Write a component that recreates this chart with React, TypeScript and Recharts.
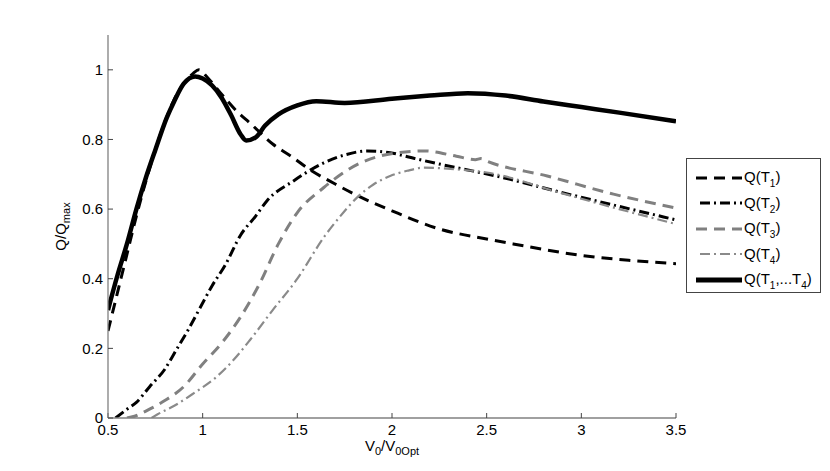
import { LineChart, Line, XAxis, YAxis, Legend } from 'recharts';

// Q(T1) - dashed black
const t1V = [0.5, 0.55, 0.6, 0.65, 0.7, 0.75, 0.8, 0.85, 0.9, 0.95, 0.98, 1.03, 1.1, 1.18, 1.25, 1.37, 1.48, 1.55, 1.7, 1.82, 2.0, 2.25, 2.5, 2.64, 3.0, 3.25, 3.5];
const t1Q = [0.25, 0.36, 0.47, 0.58, 0.68, 0.77, 0.85, 0.915, 0.96, 0.99, 1.0, 0.975, 0.93, 0.881, 0.847, 0.787, 0.747, 0.719, 0.672, 0.638, 0.595, 0.543, 0.514, 0.5, 0.467, 0.453, 0.443];

// Q(T2) - dash-dot black
const t2V = [0.54, 0.6, 0.65, 0.72, 0.8, 0.86, 0.92, 0.99, 1.05, 1.12, 1.2, 1.28, 1.34, 1.48, 1.64, 1.76, 1.87, 1.99, 2.1, 2.22, 2.43, 2.55, 2.9, 3.26, 3.5];
const t2Q = [0.0, 0.025, 0.045, 0.09, 0.14, 0.195, 0.25, 0.32, 0.38, 0.44, 0.525, 0.58, 0.624, 0.681, 0.733, 0.757, 0.767, 0.762, 0.748, 0.733, 0.709, 0.695, 0.647, 0.6, 0.569];

// Q(T3) - dashed gray
const t3V = [0.6, 0.64, 0.7, 0.8, 0.9, 1.0, 1.1, 1.2, 1.3, 1.4, 1.5, 1.64, 1.82, 2.03, 2.17, 2.34, 2.44, 2.47, 2.5, 2.82, 3.17, 3.5];
const t3Q = [0.0, 0.005, 0.02, 0.05, 0.09, 0.155, 0.215, 0.29, 0.385, 0.5, 0.59, 0.662, 0.729, 0.762, 0.767, 0.752, 0.742, 0.745, 0.738, 0.695, 0.643, 0.603];

// Q(T4) - dash-dot gray
const t4V = [0.73, 0.76, 0.85, 0.95, 1.075, 1.16, 1.25, 1.37, 1.5, 1.64, 1.72, 1.815, 1.9, 1.99, 2.08, 2.17, 2.34, 2.5, 2.9, 3.2, 3.5];
const t4Q = [0.0, 0.01, 0.035, 0.07, 0.119, 0.165, 0.224, 0.31, 0.4, 0.519, 0.575, 0.633, 0.67, 0.695, 0.71, 0.719, 0.714, 0.705, 0.645, 0.6, 0.557];

// Q(T1,...T4) - solid thick black
const sumV = [0.5, 0.55, 0.6, 0.65, 0.7, 0.75, 0.81, 0.85, 0.9, 0.96, 1.0, 1.05, 1.1, 1.15, 1.2, 1.23, 1.28, 1.33, 1.4, 1.5, 1.6, 1.75, 2.0, 2.2, 2.4, 2.6, 2.8, 3.0, 3.2, 3.5];
const sumQ = [0.31, 0.41, 0.5, 0.6, 0.69, 0.77, 0.862, 0.91, 0.96, 0.981, 0.975, 0.955, 0.92, 0.87, 0.815, 0.797, 0.806, 0.84, 0.872, 0.898, 0.91, 0.905, 0.917, 0.926, 0.933, 0.926, 0.909, 0.893, 0.877, 0.852];

const xTicks = [0.5, 1, 1.5, 2, 2.5, 3, 3.5];
const yTicks = [0, 0.2, 0.4, 0.6, 0.8, 1];
const legendSubs = [['1'], ['2'], ['3'], ['4'], ['1', '4']];

const toPoints = (v: number[], q: number[]) => v.map((x, i) => ({ v: x, q: q[i] }));

const SERIES = [
  { key: 't1', data: toPoints(t1V, t1Q), color: '#000', width: 3, dash: '11 7', legendOffset: 0 },
  { key: 't2', data: toPoints(t2V, t2Q), color: '#000', width: 3, dash: '10 4 2 4', legendOffset: 16 },
  { key: 't3', data: toPoints(t3V, t3Q), color: '#808080', width: 3, dash: '11 7', legendOffset: 0 },
  { key: 't4', data: toPoints(t4V, t4Q), color: '#8a8a8a', width: 2.2, dash: '10 4 2 4', legendOffset: 16 },
  { key: 'sum', data: toPoints(sumV, sumQ), color: '#000', width: 4.5, dash: undefined, legendOffset: 0 },
];

const FONT = '"Liberation Sans", Arial, Helvetica, sans-serif';

function LegendBox() {
  return (
    <div
      style={{
        width: 135,
        height: 135,
        border: '1px solid #444',
        background: '#fff',
        paddingTop: 6,
        boxSizing: 'border-box',
        fontFamily: FONT,
        fontSize: 15,
        color: '#000',
      }}
    >
      {SERIES.map((s, i) => (
        <div key={s.key} style={{ height: 25.5, display: 'flex', alignItems: 'center' }}>
          <svg width={46} height={10} style={{ marginLeft: 9, marginRight: 2 }}>
            <line
              x1={0}
              y1={5}
              x2={46}
              y2={5}
              stroke={s.color}
              strokeWidth={s.key === 'sum' ? 5 : s.width}
              strokeDasharray={s.dash}
              strokeDashoffset={s.legendOffset}
            />
          </svg>
          <span style={{ whiteSpace: 'nowrap', lineHeight: '15px' }}>
            Q(T<span style={{ fontSize: 10, position: 'relative', top: 5 }}>{legendSubs[i][0]}</span>
            {legendSubs[i].length > 1 && (
              <>
                ,...T<span style={{ fontSize: 10, position: 'relative', top: 5 }}>{legendSubs[i][1]}</span>
              </>
            )}
            )
          </span>
        </div>
      ))}
    </div>
  );
}

function renderXTitle(props: any) {
  const { viewBox } = props;
  const cx = viewBox.x + viewBox.width / 2;
  return (
    <text x={cx} y={451} textAnchor="middle" fontSize={15} fill="#000" fontFamily={FONT}>
      V<tspan dy={4} fontSize={11}>0</tspan>
      <tspan dy={-4}>/V</tspan>
      <tspan dy={4} fontSize={11}>0Opt</tspan>
    </text>
  );
}

function renderYTitle(props: any) {
  const { viewBox } = props;
  const cy = viewBox.y + viewBox.height / 2;
  const x = 66;
  return (
    <text x={x} y={cy} transform={`rotate(-90 ${x} ${cy})`} textAnchor="middle" fontSize={15} fill="#000" fontFamily={FONT}>
      Q/Q<tspan dy={4} fontSize={11}>max</tspan>
    </text>
  );
}

export default function App() {
  const axisLine = { stroke: '#808080', strokeWidth: 1.3 };
  const tickLine = { stroke: '#444', strokeWidth: 1 };
  return (
    <div style={{ position: 'absolute', left: 0, top: 0, width: 830, height: 471, background: '#fff', fontFamily: FONT }}>
      <LineChart width={830} height={471} margin={{ top: 35, right: 154, bottom: 23, left: 0 }}>
        <XAxis
          xAxisId="bottom"
          dataKey="v"
          type="number"
          domain={[0.5, 3.5]}
          ticks={xTicks}
          allowDataOverflow
          height={30}
          tickSize={-5}
          tickMargin={11}
          tick={{ fill: '#000', fontSize: 15 }}
          tickLine={tickLine}
          axisLine={axisLine}
          label={renderXTitle}
        />
        <XAxis
          xAxisId="top"
          orientation="top"
          dataKey="v"
          type="number"
          domain={[0.5, 3.5]}
          ticks={xTicks}
          allowDataOverflow
          height={0}
          tickSize={-5}
          tick={false}
          tickLine={tickLine}
          axisLine={axisLine}
        />
        <YAxis
          yAxisId="left"
          type="number"
          domain={[0, 1.1]}
          ticks={yTicks}
          allowDataOverflow
          width={108}
          tickSize={-5}
          tickMargin={10}
          tick={{ fill: '#000', fontSize: 15 }}
          tickLine={tickLine}
          axisLine={axisLine}
          label={renderYTitle}
        />
        <YAxis
          yAxisId="right"
          orientation="right"
          type="number"
          domain={[0, 1.1]}
          ticks={yTicks}
          allowDataOverflow
          width={0}
          tickSize={-5}
          tick={false}
          tickLine={tickLine}
          axisLine={axisLine}
        />
        {SERIES.map((s) => (
          <Line
            key={s.key}
            data={s.data}
            dataKey="q"
            xAxisId="bottom"
            yAxisId="left"
            type="monotone"
            stroke={s.color}
            strokeWidth={s.width}
            strokeDasharray={s.dash}
            dot={false}
            activeDot={false}
            isAnimationActive={false}
          />
        ))}
        <Legend
          layout="vertical"
          align="center"
          verticalAlign="middle"
          content={() => <LegendBox />}
          wrapperStyle={{ left: 686, top: 158, width: 135 }}
        />
      </LineChart>
    </div>
  );
}
